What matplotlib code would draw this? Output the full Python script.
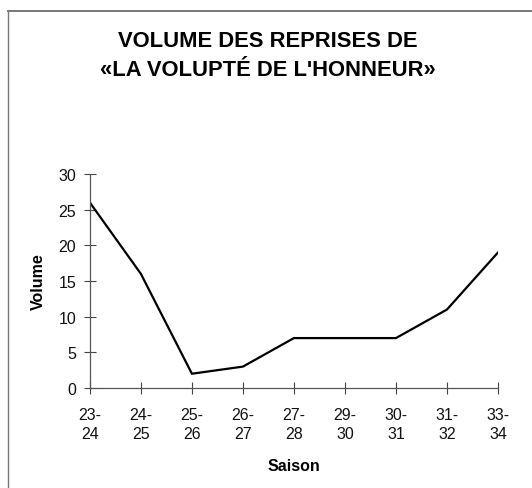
import matplotlib
matplotlib.use("Agg")
import matplotlib.pyplot as plt
from matplotlib.lines import Line2D

# --- Data ---
seasons = ["23-\n24", "24-\n25", "25-\n26", "26-\n27", "27-\n28",
           "29-\n30", "30-\n31", "31-\n32", "33-\n34"]
volume = [26, 16, 2, 3, 7, 7, 7, 11, 19]
y_ticks = [0, 5, 10, 15, 20, 25, 30]

title = "VOLUME DES REPRISES DE\n«LA VOLUPTÉ DE L'HONNEUR»"

plt.rcParams['font.family'] = ['Liberation Sans', 'DejaVu Sans']

fig = plt.figure(figsize=(5.32, 4.89), dpi=100)
ax = fig.add_axes([0.169, 0.2045, 0.767, 0.4375])

x = list(range(len(volume)))
ax.plot(x, volume, color='black', linewidth=1.6, solid_joinstyle='miter')

ax.set_xlim(0, len(volume) - 1)
ax.set_ylim(0, 30)
ax.set_xticks(x)
ax.set_xticklabels(seasons, linespacing=1.35)
ax.set_yticks(y_ticks)

for side in ['top', 'right']:
    ax.spines[side].set_visible(False)
for side in ['left', 'bottom']:
    ax.spines[side].set_color('#555555')
    ax.spines[side].set_linewidth(0.9)

ax.tick_params(axis='both', direction='inout', length=8, width=0.8,
               color='#444444', labelsize=11.5, labelcolor='#111111')
ax.tick_params(axis='x', pad=9.5)
ax.tick_params(axis='y', pad=6)

ax.set_ylabel('Volume', fontsize=11.5, fontweight='bold', labelpad=9)
ax.set_xlabel('Saison', fontsize=11.5, fontweight='bold', labelpad=12)

fig.text(0.503, 0.886, title, ha='center', va='center', fontsize=15.8,
         fontweight='bold', linespacing=1.48)

# frame lines (left and top only)
fig.add_artist(Line2D([0.015, 0.015], [0.0, 0.976], color='#777777', linewidth=1.0))
fig.add_artist(Line2D([0.015, 1.0], [0.976, 0.976], color='#777777', linewidth=1.4))

fig.savefig('out.png', dpi=100)
